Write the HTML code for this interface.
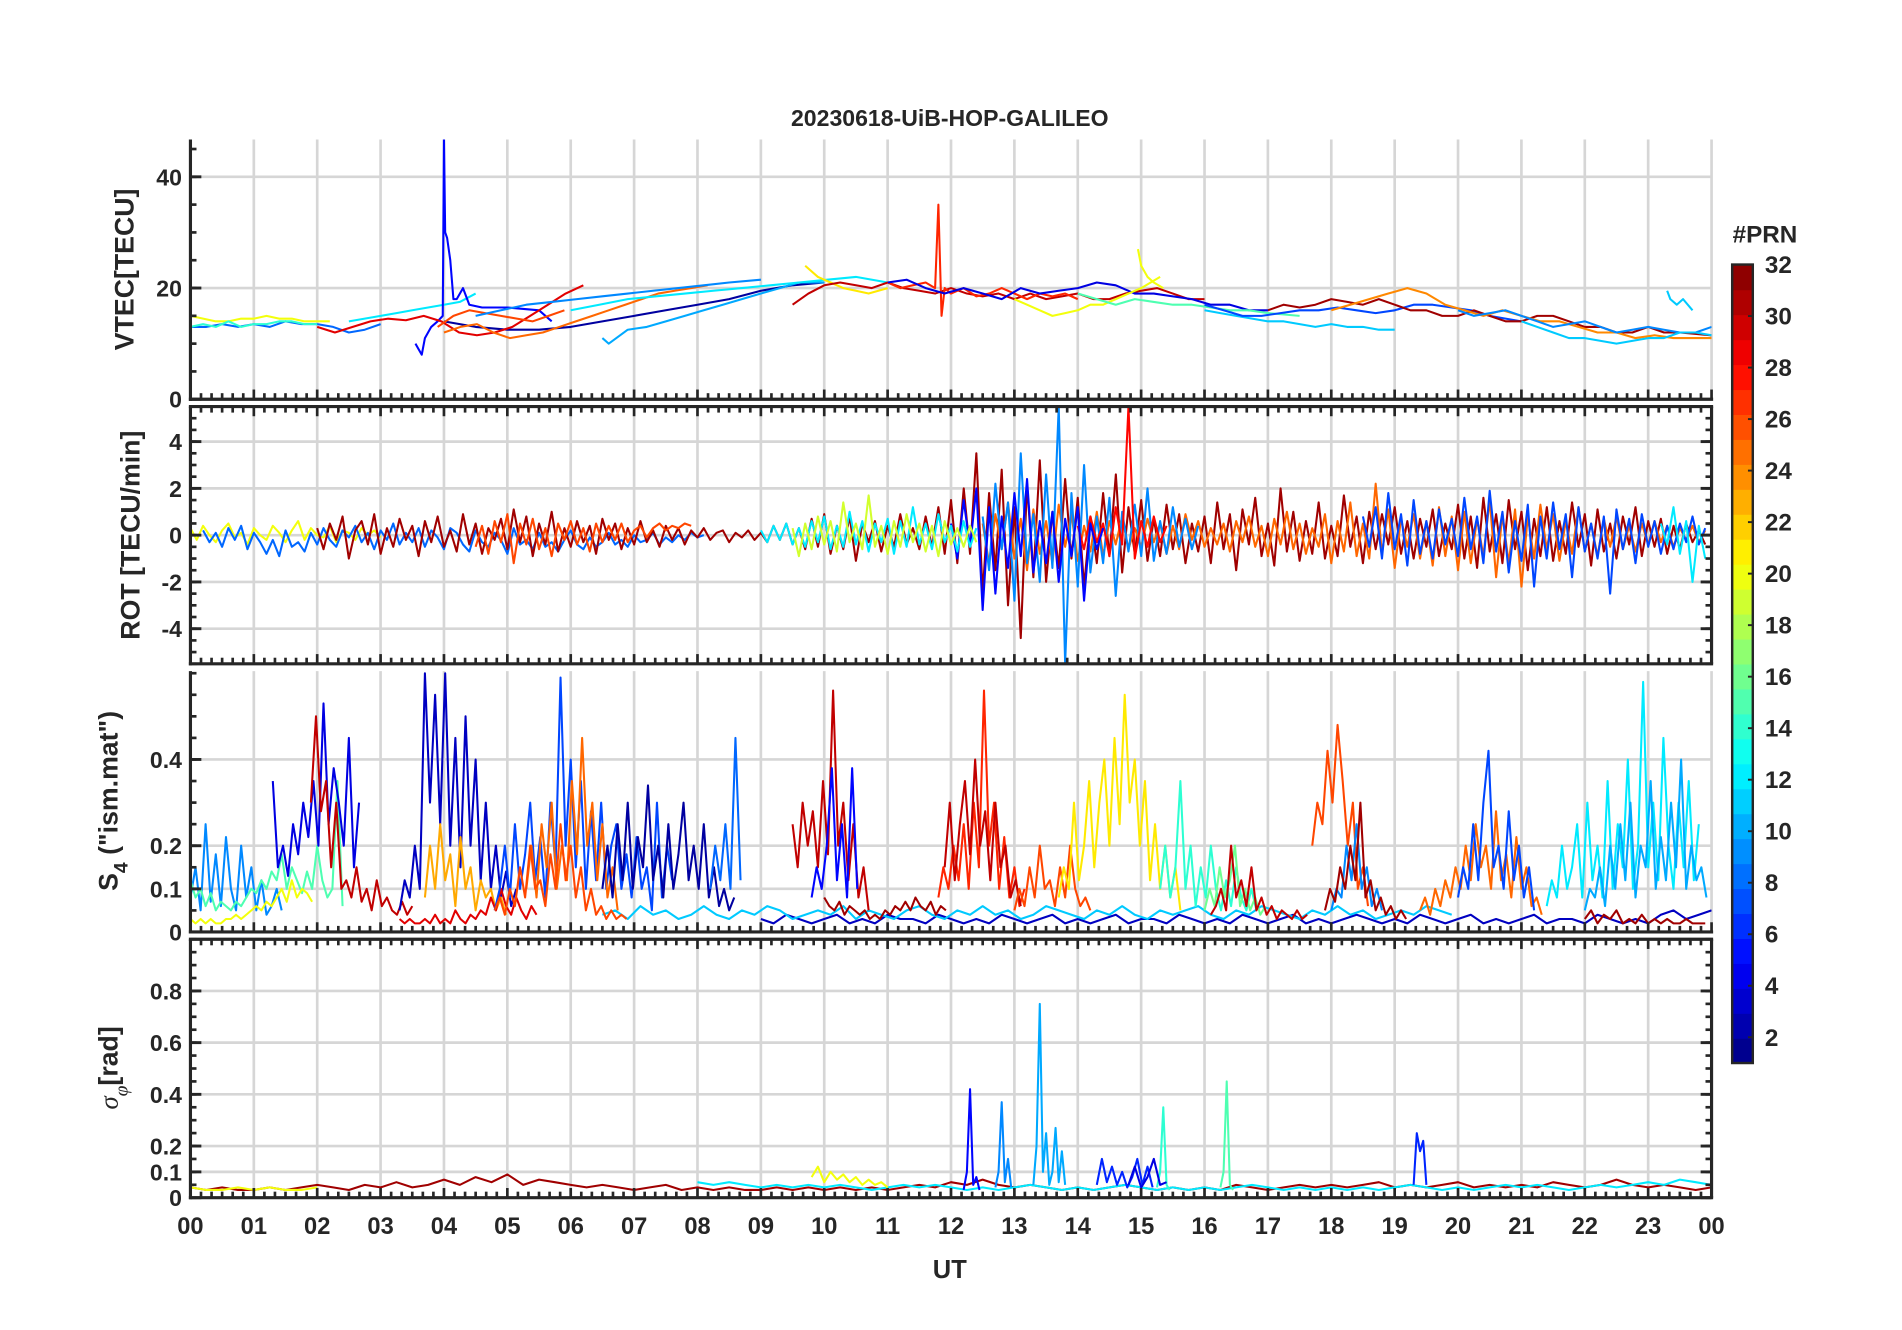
<!DOCTYPE html>
<html><head><meta charset="utf-8"><title>20230618-UiB-HOP-GALILEO</title>
<style>
html,body{margin:0;padding:0;background:#fff;}
svg{display:block;}
text{font-family:"Liberation Sans",sans-serif;font-weight:bold;fill:#262626;}
</style></head>
<body>
<svg id="fig" width="1902" height="1330" viewBox="0 0 1568 1096" preserveAspectRatio="none" xmlns="http://www.w3.org/2000/svg">
<rect width="1568" height="1096" fill="#fff"/>
<text x="783" y="104" font-size="19" text-anchor="middle">20230618-UiB-HOP-GALILEO</text>
<g id="layers"></g>
<text x="783" y="1053" font-size="21" text-anchor="middle">UT</text>
<text transform="translate(110,222) rotate(-90)" font-size="22" text-anchor="middle">VTEC[TECU]</text>
<text transform="translate(115,441) rotate(-90)" font-size="22" text-anchor="middle">ROT [TECU/min]</text>
<text transform="translate(97,660) rotate(-90)" font-size="22" text-anchor="middle">S<tspan font-size="16" dy="8">4</tspan><tspan dy="-8"> ("ism.mat")</tspan></text>
<text transform="translate(97,880) rotate(-90)" font-size="22" text-anchor="middle"><tspan font-family="Liberation Serif" font-style="italic" font-weight="normal">σ</tspan><tspan font-size="16" dy="8" font-family="Liberation Serif" font-style="italic" font-weight="normal">φ</tspan><tspan dy="-8">[rad]</tspan></text>
<text x="1455" y="200" font-size="20" text-anchor="middle">#PRN</text>
</svg>
<script>
// ---------- DATA ----------
const hourLabels = ["00","01","02","03","04","05","06","07","08","09","10","11","12","13","14","15","16","17","18","19","20","21","22","23","00"];
const vtecTicks = [0,20,40];
const rotTicks = [-4,-2,0,2,4];
const s4Ticks = [0,0.1,0.2,0.4];
const sigTicks = [0,0.1,0.2,0.4,0.6,0.8];
const prnTicks = [2,4,6,8,10,12,14,16,18,20,22,24,26,28,30,32];

// VTEC: per-series PRN, times (h), values (TECU)
const vtecPrn = [20,8,14,12,5,2,29,25,26,10,12,9,21,30,27,4,20,20,15,11,7,31,24,9,11,11];
const vtecTimes = [
 [0,0.2,0.4,0.6,0.8,1,1.2,1.4,1.6,1.8,2,2.2],
 [0,0.25,0.5,0.75,1,1.25,1.5,1.75,2,2.25,2.5,2.75,3],
 [0,0.2,0.4,0.6,0.8,1,1.2,1.4,1.6,1.8,2],
 [2.5,2.75,3,3.25,3.5,3.75,4,4.25,4.5],
 [3.55,3.6,3.65,3.7,3.75,3.8,3.9,3.98,4.0,4.02,4.05,4.1,4.15,4.2,4.3,4.4,4.6,5.0,5.5,5.7],
 [4,4.5,5,5.5,6,6.5,7,7.5,8,8.5,9,9.5,10],
 [2,2.28,2.56,2.84,3.12,3.4,3.68,3.96,4.24,4.52,4.8,5.08,5.36,5.64,5.92,6.2],
 [4,4.26,4.52,4.78,5.04,5.3,5.56,5.82,6.08,6.34,6.6,6.86,7.12,7.38,7.64,7.9,8.16],
 [3.9,4.15,4.4,4.65,4.9,5.15,5.4,5.65,5.9],
 [6.5,6.6,6.9,7.2,7.5,7.8,8.1,8.4,8.7,9,9.3,9.6,10],
 [6,6.45,6.9,7.35,7.8,8.25,8.7,9.15,9.6,10.05,10.5,11],
 [4.5,4.9,5.3,5.7,6.1,6.5,6.9,7.3,7.7,8.1,8.5,9],
 [9.7,9.9,10.1,10.3,10.5,10.7,11],
 [9.5,9.75,10,10.25,10.5,10.75,11,11.25,11.5,11.75,12,12.25,12.5,12.75,13,13.25,13.5,13.75,14,14.25,14.5,14.75,15,15.25,15.5,15.75,16],
 [11,11.2,11.4,11.6,11.75,11.8,11.85,11.9,12,12.2,12.4,12.6,12.8,13,13.2,13.4,13.6,13.8,14],
 [11,11.3,11.6,11.9,12.2,12.5,12.8,13.1,13.4,13.7,14,14.3,14.6,14.9,15.2,15.5,15.8,16.1,16.4,16.7,17],
 [13,13.2,13.4,13.6,13.8,14,14.2,14.4,14.6,14.8,15,15.3],
 [14.95,15.0,15.1,15.2,15.35],
 [14,14.3,14.6,14.9,15.2,15.5,15.8,16.1,16.4,16.7,17,17.5],
 [16,16.25,16.5,16.75,17,17.25,17.5,17.75,18,18.25,18.5,18.75,19],
 [16,16.3,16.6,16.9,17.2,17.5,17.8,18.1,18.4,18.7,19,19.3,19.6,19.9,20.2,20.5,21],
 [17,17.25,17.5,17.75,18,18.25,18.5,18.75,19,19.25,19.5,19.75,20,20.25,20.5,20.75,21,21.25,21.5,21.75,22,22.25,22.5,22.75,23,23.25,23.5,24],
 [18,18.3,18.6,18.9,19.2,19.5,19.8,20.1,20.4,20.7,21,21.3,21.6,21.9,22.2,22.5,22.8,23.1,23.4,23.7,24],
 [20,20.25,20.5,20.75,21,21.25,21.5,21.75,22,22.25,22.5,22.75,23,23.25,23.5,23.75,24],
 [21,21.25,21.5,21.75,22,22.25,22.5,22.75,23,23.25,23.5,23.75,24],
 [23.3,23.35,23.45,23.55,23.7]
];
const vtecValues = [
 [15,14.5,14,14,14.5,14.5,15,14.5,14.5,14,14,14],
 [13,13,13.5,13,13.5,13,14,13.5,13.5,13,12,12.5,13.5],
 [13,13.5,13,14,13,13.5,13.5,14,14,13.5,13.5],
 [14,14.5,15,15.5,16,16.5,17,17.5,19],
 [10,9,8,11,12,13,14,15,47,30,29,25,18,18,20,17,16.5,16.5,16,14],
 [14,13,12.5,12.5,13,14,15,16,17,18,19.5,20.5,21],
 [13,12,13,14,14.5,14.2,15,14,12,11.5,12,13,15,17,19,20.5],
 [12,13,13.5,12,11,11.5,12,13,14,15,16,17,18,19,19.5,20,20.5],
 [13,15,16,15.5,15,14.5,14,15,16],
 [11,10,12.5,13,14,15,16,17,18,19,20,21,21],
 [16,17,18,18.5,19,19.5,20,20.5,21,21.5,22,21],
 [15,16,17,17.5,18,18.5,19,19.5,20,20.5,21,21.5],
 [24,22,21,20,19.5,19,20],
 [17,19,20.5,21,20.5,20,21,20,19.5,19,20,19,18.5,19,18,19,18,18.5,19,18,18,19,19.5,20,19,18,18],
 [21,20,20.5,21,20,35,15,20,19,20,18.5,19,20,19,18,19,18.5,19,18],
 [21,21.5,20,19,20,19,18,20,19,19.5,20,21,20.5,19,19,18.5,18,17,17,16,16],
 [18,17,16,15,15.5,16,17,17,18,19,20,22],
 [27,24,22,21,20],
 [19,18,17,18,17.5,17,17,16.5,16,16,15.5,15],
 [16,15.5,15,14.5,14,14,13.5,13,13.5,13,13,12.5,12.5],
 [17,16,15,15,15.5,16,16,16.5,16,15.5,16,17,17,16.5,16,15,14],
 [16,17,16.5,17,18,17.5,17,18,17,16,16,15,15,16,15,14,14,15,15,14,13,13,12,12,13,12,12,11.5],
 [16,17,18,19,20,19,17,16,15,16,15,14,14,13,12,12,11,11.5,11,11,11],
 [16,15,15.5,16,15,14,13,13.5,14,13,12,12.5,13,12.5,12,12,13],
 [14,13,12,11,11,10.5,10,10.5,11,11,12,12,11.5],
 [19.5,18,17,18,16]
];

// ROT: per-series PRN, start hour, step hour, values (TECU/min)
const rotPrn = [20,8,31,26,25,9,28,5,7,12,19,12];
const rotStart = [0,0.2,2.0,4.5,12.5,12.5,14,12,18.5,9,9.5,23.2];
const rotStep = [0.1,0.1,0.1,0.1,0.1,0.1,0.1,0.1,0.1,0.1,0.1,0.1];
const rotValues = [
 [0.3,-0.2,0.4,0,-0.3,0.2,0.5,-0.1,0.1,-0.4,0.3,0,-0.2,0.4,0.1,-0.3,0.2,0.6,-0.2,0.3,0,-0.1,0.4,-0.3,0.2,0.1,-0.2,0.3,0,0.2,-0.1],
 [0.2,-0.3,0.1,-0.5,0.3,-0.2,0.4,-0.6,0.1,-0.3,-0.8,-0.2,-0.9,0.2,-0.5,-0.3,-0.7,0.1,-0.4,0.3,-0.2,-0.5,0.2,-0.1,0.4,-0.3,0.1,-0.6,0.2,-0.2,0.5,-0.4,0.1,-0.3,0.3,-0.5,0.2,-0.1,-0.6,0.3,0.1,-0.4,-0.7,0.2,-0.3,-0.5,0.1,-0.2,-0.8,0.3,-0.4,-0.2,-0.6,0.1,-0.5,-0.3,-0.7,-0.2,0.2,-0.4,-0.6,-0.1,-0.5,-0.3,0.1,-0.4,-0.2,-0.5,0,-0.3,-0.2,0.1,-0.4,-0.1,-0.3,0,-0.2,0.1,-0.1,0],
 [0.3,-0.6,0.5,-0.2,0.8,-1.0,0.2,0.6,-0.4,0.9,-0.8,0.3,-0.5,0.7,-0.2,0.4,-0.9,0.6,-0.3,0.8,-0.5,0.2,-0.7,0.9,-0.4,0.5,-0.8,0.3,-0.2,0.7,
  -0.6,1.1,-0.3,0.8,-0.9,0.5,-0.4,1.0,-0.7,0.3,-0.5,0.6,-0.3,0.4,-0.8,0.7,-0.2,0.5,-0.6,0.3,-0.4,0.6,-0.3,0.2,-0.5,0.4,-0.2,0.3,-0.4,0.2,-0.1,0.3,-0.2,0.1,0.2,-0.3,0.1,-0.1,0.2,-0.2,
  0.1,-0.3,0.4,-0.2,0.5,-0.4,0.3,-0.6,0.7,-0.5,0.9,-0.8,0.4,-0.6,0.8,-1.1,0.5,-0.3,0.6,-0.7,0.4,-0.5,0.9,-0.4,0.3,-0.6,0.8,-0.5,1.2,-0.8,
  1.5,-1.2,2.0,-0.8,3.5,-2.5,1.8,-1.5,2.8,-3.0,1.2,-4.4,2.2,-1.8,3.2,-2.0,1.0,-1.4,2.4,-1.0,1.6,-2.2,0.8,-1.2,1.8,-0.9,2.6,-1.6,1.2,-0.8,1.5,-1.1,0.7,-0.9,1.3,-0.6,0.9,-1.2,0.5,-0.7,
  0.8,-1.2,1.4,-0.6,0.9,-1.5,1.1,-0.4,1.6,-0.9,0.5,-1.3,2.0,-0.7,1.0,-1.1,0.6,-0.8,1.4,-1.0,0.4,-0.9,1.7,-0.5,0.8,-1.2,1.0,-0.6,0.9,-0.4,1.2,-0.8,0.6,-1.0,0.7,-0.5,1.1,-0.9,0.5,-0.6,
  1.3,-1.0,0.8,-1.4,1.6,-0.7,0.9,-1.2,1.5,-0.6,1.0,-1.5,0.7,-0.9,1.2,-1.1,0.6,-0.8,1.4,-0.5,0.9,-1.3,1.1,-0.7,0.5,-1.0,0.8,-0.4,1.2,-0.9,0.6,-0.5,0.7,-0.8,0.4,-0.6,0.5,-0.3,0.2,-0.4],
 [-0.5,0.4,-0.8,0.6,-0.3,0.9,-1.2,0.5,-0.4,0.7,-0.6,0.3,-0.9,0.5,-0.2,0.6,-0.4,0.3,-0.7,0.5,-0.3,0.4,-0.2,0.5,-0.3,0.2,0.4,-0.1,0.3,0.5,0.2,0.4,0.3,0.5,0.4],
 [0.5,-1.2,0.9,-0.6,1.4,-1.0,0.7,-1.5,1.1,-0.8,0.6,-1.2,1.3,-0.5,0.9,-1.1,0.4,-0.7,1.0,-0.9,0.6,-0.4,0.8,-0.6,0.3,-0.5,0.7,-0.3,0.5,-0.8,0.4,-0.6,0.9,-0.2,0.6,-0.5,0.3,-0.4,0.5,-0.7,
  0.6,-0.3,0.8,-0.5,0.4,-0.9,0.7,-0.4,1.0,-0.6,0.5,-0.8,0.3,-0.5,0.9,-1.2,0.6,-0.7,1.4,-0.9,0.5,-1.0,2.2,-0.8,1.1,-1.4,0.7,-0.5,0.9,-1.0,0.6,-1.3,1.2,-0.9,0.8,-1.5,1.0,-1.2,0.7,-0.9,
  1.5,-1.8,0.9,-1.2,1.1,-2.2,0.8,-1.0,1.3,-0.6,0.9,-1.1,0.6,-0.8,1.2,-0.7,0.5,-0.9,0.7,-0.5,0.8,-0.6,0.4,-0.7,0.5,-0.4,0.6,-0.3,0.4,-0.5,0.3,-0.2,0.4,-0.3,0.2],
 [0.8,-1.5,2.2,-0.6,1.4,-2.8,3.5,-1.2,0.9,-2.0,2.6,-1.4,5.5,-5.5,1.8,-2.2,3.0,-1.6,0.8,-1.2,1.6,-2.6,1.0,-0.7,1.3,-0.9,2.0,-1.1,0.6,-0.8,1.2,-0.5,0.7,-0.6,0.4],
 [0.4,-0.6,0.8,-0.3,0.5,-0.9,1.2,-0.4,5.5,-1.0,0.6,-0.5,0.8,-0.3,0.4],
 [0.5,-1.0,1.5,-0.5,2.0,-3.2,1.2,-2.5,0.8,-1.4,1.8,-0.9,2.4,-1.6,0.6,-1.2,1.0,-2.0,0.7,-0.9,1.2,-2.8,0.5,-0.6,0.3],
 [0.8,-0.5,1.2,-1.0,1.8,-0.6,0.9,-1.3,1.5,-0.8,0.6,-1.0,1.1,-0.4,0.7,-0.9,1.6,-0.6,0.8,-1.2,1.9,-0.7,1.0,-1.6,0.6,-1.1,1.3,-2.2,0.8,-1.0,1.4,-0.6,0.9,-1.8,1.2,-0.7,0.5,-1.0,0.8,-2.5,1.1,-0.6,0.7,-1.2,0.9,-0.5,0.6,-0.8,0.4,-0.6,0.5,-0.3,0.8,-0.4,0.3],
 [0.2,-0.3,0.4,-0.2,0.5,-0.4,0.3,-0.5,0.6,-0.3,0.8,-0.6,0.4,-0.5,1.0,-0.4,0.6,-0.7,0.5,-0.3,0.7,-0.8,0.6,-0.5,1.2,-0.4,0.5,-0.6,0.9,-0.3,0.4,-0.7,0.6,-0.5,0.3],
 [0.3,-0.9,0.5,-0.6,0.8,-0.4,0.6,-0.7,1.4,-0.3,0.5,-0.6,1.7,-0.5,0.4,-0.8,0.6,-0.5,0.9,-0.3,0.5,-0.7,0.4,-0.9,0.6,-0.4,0.3,-0.5,0.4,-0.3],
 [0.5,-0.4,1.2,-0.8,0.6,-2.0,0.4,-1.0]
];

// S4: per-series PRN, start hour, step hour, values
const s4Prn = [3,11,9,15,4,30,20,3,23,29,7,25,26,2,8,30,5,31,27,30,26,21,14,16,30,26,9,31,25,7,12,10,31];
const s4Start = [9,6.5,0,0,1.3,1.9,0,3.3,3.7,3.3,4.8,5.3,4.8,6.5,8.2,9.5,9.8,10,11.8,11.9,13,13.7,15.3,16,16.1,17.7,18,17.9,19.4,20,21.4,22,22];
const s4Step = [0.2,0.2,0.08,0.08,0.08,0.08,0.08,0.08,0.08,0.08,0.08,0.08,0.08,0.08,0.08,0.08,0.08,0.08,0.08,0.08,0.08,0.08,0.08,0.08,0.08,0.08,0.08,0.08,0.08,0.08,0.08,0.08,0.1];
const s4Values = [
 [0.03,0.02,0.04,0.03,0.02,0.03,0.04,0.02,0.03,0.02,0.04,0.03,0.03,0.02,0.04,0.03,0.02,0.03,0.02,0.04,0.03,0.02,0.03,0.04,0.02,0.03,0.02,0.03,0.04,0.02,0.03,0.03,0.02,0.04,0.03,0.02,0.03,0.02,0.04,0.03,0.02,0.03,0.04,0.02,0.03,0.02,0.03,0.04,0.03,0.02,0.03,0.02,0.04,0.03,0.02,0.03,0.04,0.02,0.03,0.02,0.03,0.04,0.02,0.03,0.03,0.02,0.04,0.03,0.02,0.03,0.02,0.04,0.05,0.03,0.04,0.05],
 [0.04,0.05,0.03,0.06,0.04,0.05,0.03,0.04,0.06,0.04,0.03,0.05,0.04,0.06,0.05,0.03,0.04,0.05,0.04,0.06,0.03,0.05,0.04,0.03,0.05,0.06,0.04,0.03,0.05,0.04,0.06,0.04,0.05,0.03,0.04,0.06,0.05,0.04,0.03,0.05,0.04,0.06,0.04,0.03,0.05,0.04,0.05,0.06,0.04,0.03,0.05,0.04,0.06,0.05,0.04,0.03,0.05,0.04,0.06,0.04,0.05,0.03,0.04,0.05,0.04,0.06,0.05,0.04],
 [0.08,0.15,0.05,0.25,0.07,0.18,0.06,0.22,0.1,0.05,0.2,0.08,0.15,0.05,0.12,0.04,0.06,0.1,0.05],
 [0.12,0.08,0.1,0.06,0.09,0.05,0.07,0.06,0.05,0.07,0.06,0.08,0.1,0.09,0.12,0.1,0.14,0.12,0.18,0.1,0.15,0.12,0.09,0.14,0.1,0.2,0.12,0.08,0.1,0.35,0.06],
 [0.35,0.15,0.2,0.13,0.25,0.18,0.3,0.22,0.35,0.2,0.53,0.25,0.38,0.3,0.2,0.45,0.15,0.3],
 [0.3,0.5,0.28,0.35,0.15,0.3,0.1,0.12,0.08,0.15,0.07,0.1,0.05,0.12,0.06,0.08,0.05,0.04,0.07,0.04,0.06],
 [0.03,0.02,0.03,0.02,0.03,0.02,0.02,0.03,0.03,0.04,0.03,0.04,0.05,0.06,0.05,0.07,0.06,0.08,0.1,0.07,0.12,0.08,0.1,0.09,0.07],
 [0.05,0.12,0.08,0.2,0.1,0.6,0.3,0.55,0.25,0.6,0.2,0.45,0.15,0.5,0.2,0.4,0.12,0.3,0.1,0.2,0.08,0.14,0.06,0.1],
 [0.08,0.2,0.1,0.25,0.12,0.18,0.06,0.22,0.1,0.15,0.05,0.12,0.08,0.1,0.05,0.08,0.04],
 [0.03,0.02,0.03,0.02,0.02,0.03,0.02,0.04,0.02,0.03,0.02,0.05,0.03,0.02,0.04,0.03,0.05,0.04,0.08,0.05,0.1,0.06,0.04,0.08,0.05,0.03,0.06,0.04],
 [0.05,0.1,0.2,0.08,0.25,0.1,0.18,0.3,0.12,0.22,0.08,0.3,0.15,0.59,0.2,0.4,0.15,0.35,0.1,0.28,0.12,0.3,0.1,0.2,0.25,0.1,0.18,0.08,0.22,0.1,0.15,0.05,0.3,0.08,0.2,0.12],
 [0.1,0.2,0.08,0.25,0.15,0.3,0.1,0.2,0.12,0.35,0.18,0.45,0.2,0.3,0.12,0.25,0.08,0.15,0.05],
 [0.05,0.08,0.04,0.1,0.06,0.15,0.08,0.2,0.1,0.12,0.06,0.18,0.1,0.25,0.12,0.2,0.08,0.15,0.05,0.1,0.04,0.06,0.03,0.05,0.03,0.04,0.03],
 [0.1,0.2,0.08,0.25,0.12,0.3,0.1,0.22,0.15,0.34,0.12,0.2,0.08,0.25,0.1,0.18,0.3,0.12,0.2,0.1,0.25,0.08,0.15,0.06,0.1,0.05,0.08],
 [0.1,0.2,0.12,0.25,0.1,0.45,0.12],
 [0.25,0.15,0.3,0.2,0.28,0.15,0.35,0.18,0.56,0.2,0.3,0.12,0.25,0.08,0.15,0.05],
 [0.08,0.15,0.1,0.2,0.38,0.12,0.25,0.08,0.38,0.1],
 [0.08,0.06,0.05,0.07,0.04,0.06,0.05,0.04,0.05,0.03,0.04,0.03,0.05,0.04,0.06,0.05,0.07,0.05,0.08,0.06,0.05,0.07,0.04,0.06,0.05],
 [0.08,0.15,0.1,0.2,0.12,0.25,0.1,0.3,0.15,0.56,0.2,0.3,0.1,0.22,0.08,0.15,0.06,0.1],
 [0.15,0.3,0.12,0.25,0.35,0.18,0.4,0.2,0.28,0.12,0.3,0.15,0.2,0.08,0.12,0.06],
 [0.05,0.1,0.06,0.15,0.08,0.2,0.1,0.12,0.06,0.15,0.08,0.2,0.1,0.06,0.08,0.05],
 [0.08,0.15,0.1,0.3,0.12,0.2,0.35,0.15,0.3,0.4,0.2,0.45,0.25,0.55,0.3,0.4,0.2,0.35,0.12,0.25,0.1,0.2,0.08,0.15,0.05],
 [0.1,0.2,0.08,0.15,0.35,0.1,0.2,0.06,0.15,0.08,0.2,0.1,0.05,0.12,0.06,0.15,0.08,0.05,0.1,0.05],
 [0.05,0.1,0.06,0.15,0.08,0.12,0.2,0.06,0.1,0.05,0.08,0.04,0.06],
 [0.04,0.06,0.1,0.05,0.2,0.08,0.12,0.06,0.15,0.05,0.08,0.04,0.06,0.03,0.05,0.04,0.03,0.05,0.03,0.04],
 [0.2,0.3,0.25,0.42,0.3,0.48,0.35,0.2,0.3,0.1,0.15,0.06],
 [0.05,0.1,0.08,0.2,0.12,0.25,0.1,0.15,0.06,0.1,0.05],
 [0.05,0.1,0.07,0.15,0.1,0.2,0.12,0.3,0.08,0.12,0.05,0.08,0.04,0.06,0.03,0.05,0.03],
 [0.05,0.08,0.04,0.1,0.06,0.12,0.08,0.15,0.1,0.2,0.12,0.25,0.15,0.2,0.1,0.28,0.12,0.18,0.08,0.22,0.1,0.15,0.06,0.08,0.04],
 [0.08,0.15,0.1,0.25,0.12,0.3,0.42,0.15,0.2,0.1,0.28,0.12,0.2,0.08,0.15,0.05],
 [0.06,0.12,0.08,0.2,0.1,0.15,0.25,0.08,0.3,0.12,0.2,0.08,0.35,0.1,0.25,0.15,0.4,0.1,0.2,0.58,0.15,0.3,0.12,0.45,0.2,0.1,0.3,0.15,0.35,0.12,0.25],
 [0.05,0.1,0.08,0.15,0.06,0.2,0.1,0.25,0.12,0.3,0.08,0.2,0.15,0.35,0.1,0.22,0.12,0.3,0.15,0.4,0.1,0.2,0.12,0.15,0.08],
 [0.03,0.05,0.02,0.04,0.03,0.05,0.02,0.03,0.02,0.04,0.02,0.03,0.02,0.03,0.02,0.02,0.03,0.02,0.02,0.02]
];

// Sigma-phi: per-series PRN, start hour, step hour, values (rad)
const sigPrn = [31,12,20,20,5,9,10,6,14,15,6,4];
const sigStart = [0,8,0,9.8,12.2,12.7,13.3,14.3,15.25,16.25,19.3,14.8];
const sigStep = [0.25,0.25,0.25,0.1,0.05,0.05,0.05,0.08,0.05,0.05,0.05,0.1];
const sigValues = [
 [0.04,0.03,0.04,0.03,0.03,0.04,0.03,0.04,0.05,0.04,0.03,0.05,0.04,0.06,0.04,0.05,0.07,0.05,0.08,0.06,0.09,0.05,0.07,0.06,0.05,0.04,0.05,0.04,0.03,0.04,0.05,0.03,0.04,0.03,0.04,0.03,0.03,0.04,0.03,0.04,0.03,0.04,0.03,0.04,0.03,0.04,0.05,0.04,0.06,0.05,0.07,0.05,0.04,0.05,0.04,0.03,0.04,0.03,0.04,0.05,0.04,0.03,0.04,0.03,0.04,0.03,0.05,0.04,0.03,0.04,0.05,0.04,0.05,0.04,0.05,0.06,0.04,0.05,0.04,0.05,0.06,0.04,0.05,0.04,0.05,0.04,0.06,0.05,0.04,0.05,0.07,0.05,0.04,0.05,0.04,0.03,0.04],
 [0.06,0.05,0.06,0.05,0.04,0.05,0.04,0.05,0.04,0.05,0.04,0.03,0.04,0.05,0.04,0.05,0.04,0.03,0.04,0.03,0.04,0.05,0.04,0.03,0.04,0.03,0.04,0.05,0.04,0.03,0.04,0.03,0.04,0.03,0.04,0.05,0.04,0.03,0.04,0.03,0.04,0.03,0.04,0.03,0.04,0.05,0.04,0.03,0.04,0.03,0.04,0.05,0.04,0.05,0.04,0.03,0.04,0.05,0.04,0.05,0.06,0.05,0.07,0.06,0.05],
 [0.04,0.03,0.03,0.04,0.03,0.04,0.03,0.03,0.04],
 [0.08,0.12,0.06,0.1,0.07,0.09,0.06,0.08,0.05,0.07,0.05,0.06,0.04],
 [0.03,0.1,0.42,0.05,0.08,0.03],
 [0.04,0.1,0.37,0.06,0.15,0.04],
 [0.05,0.2,0.75,0.1,0.25,0.05,0.1,0.27,0.06,0.18,0.05],
 [0.05,0.15,0.06,0.12,0.05,0.1,0.04,0.08,0.15,0.05,0.12,0.04],
 [0.04,0.1,0.35,0.05,0.03],
 [0.04,0.1,0.45,0.05,0.03],
 [0.05,0.25,0.18,0.22,0.05],
 [0.05,0.12,0.04,0.08,0.15,0.05,0.06]
];

// ---------- DRAWING ----------
const NS = "http://www.w3.org/2000/svg";
const L = 157, R = 1411;
function xScale(h){ return L + h * (R - L) / 24; }
const panels = {
  vtec:{top:115,bottom:329,min:0,max:46.7,box:false,minor:5},
  rot:{top:335,bottom:547,min:-5.5,max:5.5,box:true,minor:0.5},
  s4:{top:553,bottom:768,min:0,max:0.605,box:false,minor:0.05},
  sig:{top:774,bottom:987,min:0,max:1.0,box:true,minor:0.05}
};
function yScale(p, v){ return p.bottom - (v - p.min) / (p.max - p.min) * (p.bottom - p.top); }
function clamp(a){ return Math.max(0, Math.min(1, a)); }
function jet(prn){
  const f = (prn - 1) / 31;
  const r = clamp(1.5 - Math.abs(4*f - 3)), g = clamp(1.5 - Math.abs(4*f - 2)), b = clamp(1.5 - Math.abs(4*f - 1));
  return "rgb(" + Math.round(r*255) + "," + Math.round(g*255) + "," + Math.round(b*255) + ")";
}
const layers = document.getElementById("layers");
function el(tag, attrs, parent){
  const e = document.createElementNS(NS, tag);
  for (const k in attrs) e.setAttribute(k, attrs[k]);
  (parent || layers).appendChild(e);
  return e;
}

const defs = el("defs", {});
Object.keys(panels).forEach(function(key){
  const p = panels[key];
  const cp = el("clipPath", {id:"clip-" + key}, defs);
  el("rect", {x:L, y:p.top, width:R-L, height:p.bottom-p.top}, cp);
});

function drawGrid(key, ticks){
  const p = panels[key];
  const g = el("g", {});
  
  
  for (let h = 1; h <= 24; h++){
    el("line", {x1:xScale(h), x2:xScale(h), y1:p.top, y2:p.bottom, stroke:"#d6d6d6", "stroke-width":2.2}, g);
  }
  ticks.forEach(function(t){
    const y = yScale(p, t);
    el("line", {x1:L, x2:R, y1:y, y2:y, stroke:"#d6d6d6", "stroke-width":2.2}, g);
  });
}

function drawLine(key, name, prn, xs, vs){
  const p = panels[key];
  let d = "";
  for (let i = 0; i < vs.length; i++){
    d += (i ? "L" : "M") + xScale(xs[i]).toFixed(1) + "," + yScale(p, vs[i]).toFixed(1);
  }
  const path = el("path", {d:d, fill:"none", stroke:jet(prn), "stroke-width":1.7, "stroke-linejoin":"round", "clip-path":"url(#clip-" + key + ")"});
  
  
}
function drawStepSeries(key, prnArr, startArr, stepArr, valArr){
  valArr.forEach(function(vals, i){
    const xs = vals.map(function(_, j){ return startArr[i] + j * stepArr[i]; });
    drawLine(key, key + "-line-prn" + prnArr[i], prnArr[i], xs, vals);
  });
}

function drawAxes(key, ticks, labels){
  const p = panels[key];
  const g = el("g", {});
  
  
  const c = "#262626", w = 2.6;
  el("line", {x1:L, x2:L, y1:p.top, y2:p.bottom+1.3, stroke:c, "stroke-width":w}, g);
  el("line", {x1:L-1.3, x2:R+1.3, y1:p.bottom, y2:p.bottom, stroke:c, "stroke-width":w}, g);
  if (p.box){
    el("line", {x1:R, x2:R, y1:p.top, y2:p.bottom, stroke:c, "stroke-width":w}, g);
    el("line", {x1:L-1.3, x2:R+1.3, y1:p.top, y2:p.top, stroke:c, "stroke-width":w}, g);
  }
  for (let k = 0; k <= 144; k++){
    const x = xScale(k / 6), len = (k % 6 === 0) ? 8 : 5;
    el("line", {x1:x, x2:x, y1:p.bottom, y2:p.bottom-len, stroke:c, "stroke-width":2.2}, g);
    if (p.box) el("line", {x1:x, x2:x, y1:p.top, y2:p.top+len, stroke:c, "stroke-width":2.2}, g);
  }
  const n = Math.round((p.max - p.min) / p.minor);
  for (let k = 0; k <= n; k++){
    const v = p.min + k * p.minor;
    if (v > p.max) break;
    const y = yScale(p, v);
    el("line", {x1:L, x2:L+5, y1:y, y2:y, stroke:c, "stroke-width":2.2}, g);
    if (p.box) el("line", {x1:R, x2:R-5, y1:y, y2:y, stroke:c, "stroke-width":2.2}, g);
  }
  ticks.forEach(function(t, i){
    const y = yScale(p, t);
    el("line", {x1:L, x2:L+9, y1:y, y2:y, stroke:c, "stroke-width":2.4}, g);
    if (p.box) el("line", {x1:R, x2:R-9, y1:y, y2:y, stroke:c, "stroke-width":2.4}, g);
    const tx = el("text", {x:L-7, y:y+7, "font-size":19, "text-anchor":"end"}, g);
    tx.textContent = labels[i];
    
    
  });
}

drawGrid("vtec", vtecTicks);
drawGrid("rot", rotTicks);
drawGrid("s4", s4Ticks);
drawGrid("sig", sigTicks);

vtecValues.forEach(function(vals, i){ drawLine("vtec", "vtec-line-prn" + vtecPrn[i], vtecPrn[i], vtecTimes[i], vals); });
drawStepSeries("rot", rotPrn, rotStart, rotStep, rotValues);
drawStepSeries("s4", s4Prn, s4Start, s4Step, s4Values);
drawStepSeries("sig", sigPrn, sigStart, sigStep, sigValues);

drawAxes("vtec", vtecTicks, vtecTicks.map(String));
drawAxes("rot", rotTicks, rotTicks.map(String));
drawAxes("s4", s4Ticks, s4Ticks.map(String));
drawAxes("sig", sigTicks, sigTicks.map(String));

hourLabels.forEach(function(lbl, i){
  const t = el("text", {x:xScale(i), y:1017, "font-size":19.5, "text-anchor":"middle"});
  t.textContent = lbl;
  
  
});

const cbX = 1428, cbW = 17, cbTop = 218, cbBot = 876, cbMin = 1, cbMax = 32;
const cb = el("g", {});


const nb = 32, bh = (cbBot - cbTop) / nb;
for (let i = 0; i < nb; i++){
  const prn = cbMin + (i + 0.5) * (cbMax - cbMin) / nb;
  el("rect", {x:cbX, y:cbBot - (i+1)*bh, width:cbW, height:bh+0.6, fill:jet(prn)}, cb);
}
el("rect", {x:cbX, y:cbTop, width:cbW, height:cbBot-cbTop, fill:"none", stroke:"#262626", "stroke-width":2}, cb);
prnTicks.forEach(function(t){
  const y = cbBot - (t - cbMin) / (cbMax - cbMin) * (cbBot - cbTop);
  el("line", {x1:cbX+cbW, x2:cbX+cbW-4, y1:y, y2:y, stroke:"#262626", "stroke-width":1.6}, cb);
  const tx = el("text", {x:1455, y:y+7, "font-size":20}, cb);
  tx.textContent = String(t);
  
  
});
</script>
</body></html>
